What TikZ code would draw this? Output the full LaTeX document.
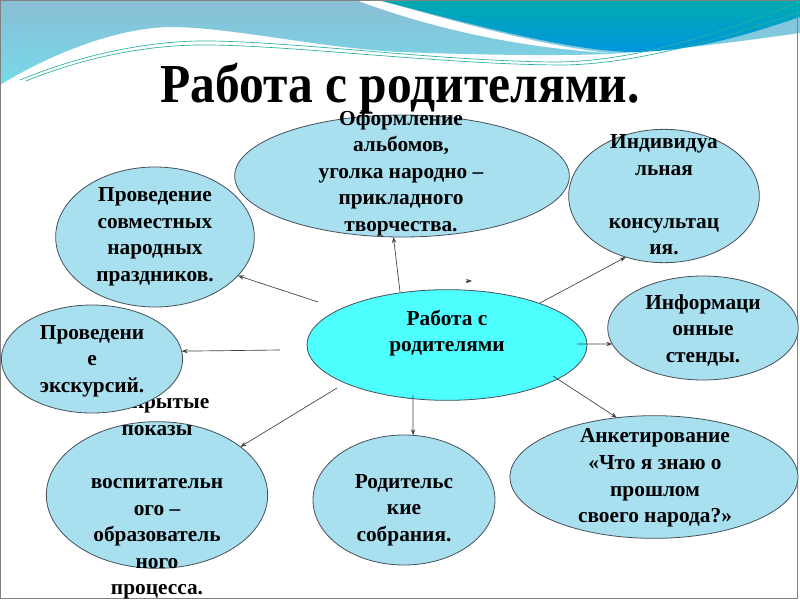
\documentclass[tikz,border=0pt]{standalone}
\usepackage{fontspec}
\setmainfont{Liberation Serif}
\usetikzlibrary{shapes.geometric,arrows.meta}
\definecolor{lb}{RGB}{168,224,240}
\definecolor{cy}{RGB}{77,255,255}
\definecolor{edgec}{RGB}{70,80,90}
\definecolor{bandtop}{RGB}{138,190,214}
\definecolor{bandbot}{RGB}{118,218,232}
\definecolor{tealtop}{RGB}{0,170,176}
\definecolor{tealbot}{RGB}{0,150,222}
\definecolor{tealline}{RGB}{40,176,160}
\begin{document}
\begin{tikzpicture}[x=0.75pt,y=-0.75pt,
  ell/.style={ellipse, draw=edgec, line width=0.6pt, fill=lb, inner sep=0pt, outer sep=0pt},
  txt/.style={align=center, font=\fontsize{16}{19.9}\selectfont\bfseries, inner sep=0pt},
  arr/.style={draw=black!75, line width=0.5pt, -{Stealth[length=4.5pt,width=3.2pt]}}]
\useasboundingbox (0,0) rectangle (800,600);
\fill[white] (0,0) rectangle (800,600);
% banner
\shade[top color=bandtop, bottom color=bandbot]
  (0,0) -- (800,0) -- (800,33) .. controls (750,40) and (680,50) .. (607,54)
  .. controls (560,56) and (480,55) .. (400,52)
  .. controls (320,48) and (230,27) .. (170,27)
  .. controls (110,28) and (40,60) .. (0,85) -- cycle;
\fill[white] (356,0) .. controls (430,28) and (520,48) .. (610,53)
  .. controls (540,46) and (450,20) .. (378,0) -- cycle;
\shade[top color=tealtop, bottom color=tealbot]
  (378,0) .. controls (450,18) and (560,50) .. (630,52)
  .. controls (700,52) and (760,30) .. (800,17) -- (800,0) -- cycle;
\draw[tealline, line width=0.5pt] (20,80) .. controls (80,55) and (150,40) .. (210,41)
  .. controls (300,42) and (450,62) .. (560,62) .. controls (650,60) and (740,25) .. (800,2);
\draw[tealline, line width=0.5pt] (26,81) .. controls (85,57) and (150,44) .. (210,45)
  .. controls (300,46) and (450,65) .. (565,65) .. controls (650,63) and (740,32) .. (800,12);
\draw[gray, line width=0.75pt] (0.5,0.5) rectangle (797.5,598.5);
% title
\node[font=\fontsize{37.5}{40}\selectfont\bfseries, anchor=base, inner sep=0pt] (title) at (400,102) {\scalebox{0.99}[1.1]{Работа с родителями.}};
% ellipses
\node[ell, minimum width=251pt, minimum height=91.5pt] (T) at (402,176) {};
\node[txt] (tT) at (401,173) {Оформление\\альбомов,\\уголка народно –\\прикладного\\творчества.};
\node[ell, minimum width=143pt, minimum height=100pt] (I) at (664,196) {};
\node[txt] (tI) at (664,195) {Индивидуа\\льная\\\strut\\консультац\\ия.};
\node[ell, minimum width=149pt, minimum height=105pt] (P) at (155,237) {};
\node[txt] (tP) at (155,237) {Проведение\\совместных\\народных\\праздников.};
\node[ell, fill=cy, minimum width=210pt, minimum height=83pt] (C) at (447,345) {};
\node[txt] (tC) at (447,333) {Работа с\\родителями};
\node[ell, minimum width=143pt, minimum height=78pt] (N) at (703,328) {};
\node[txt] (tN) at (703,330) {Информаци\\онные\\стенды.};
\node[ell, minimum width=136.5pt, minimum height=97.5pt] (R) at (404,500) {};
\node[txt] (tR) at (404,510) {Родительс\\кие\\собрания.};
\node[ell, minimum width=216pt, minimum height=92pt] (A) at (654,477) {};
\node[txt] (tA) at (655,478) {Анкетирование\\«Что я знаю о\\прошлом\\своего народа?»};
\node[ell, minimum width=166pt, minimum height=110pt] (O) at (157,495) {};
\node[txt] (tO) at (157,497) {Открытые\\показы\\\strut\\воспитательн\\ого –\\образователь\\ного\\процесса.};
\node[ell, minimum width=136pt, minimum height=81pt] (E) at (92,359) {};
\node[txt] (tE) at (92,361) {Проведени\\е\\экскурсий.};
% connectors
\coordinate (s1) at (318,302);
\coordinate (s2) at (400,292);
\coordinate (s3) at (540,303);
\coordinate (s4) at (577,344);
\coordinate (s5) at (553,376);
\coordinate (s6) at (413,395);
\coordinate (s7) at (337,388);
\coordinate (s8) at (280,350);
\draw[arr] (s1) -- (P.-25);
\draw[arr] (s2) -- (T.262);
\draw[arr] (s3) -- (I.238);
\draw[arr] (s4) -- (N.190);
\draw[arr] (s5) -- (A.122);
\draw[arr] (s6) -- (R.82);
\draw[arr] (s7) -- (O.30);
\draw[arr] (s8) -- (E.5);
\coordinate (m1) at (466,281);
\coordinate (m2) at (472,281);
\draw[arr] (m1) -- (m2);
\end{tikzpicture}
\end{document}
